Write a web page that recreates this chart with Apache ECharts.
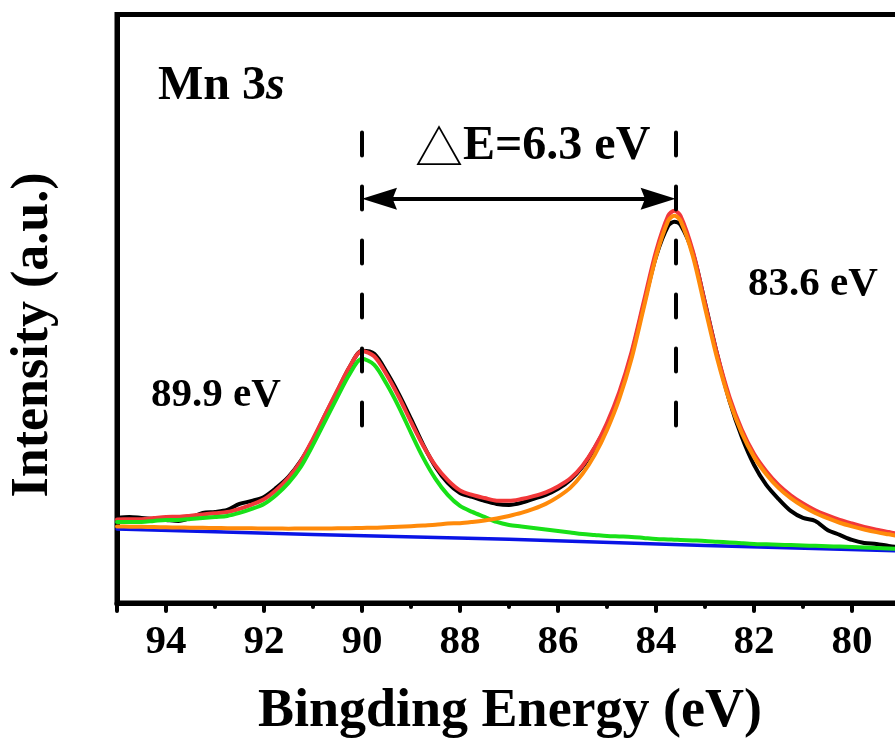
<!DOCTYPE html>
<html><head><meta charset="utf-8">
<script src="https://cdn.jsdelivr.net/npm/echarts@6/dist/echarts.min.js"></script>
<style>html,body{margin:0;padding:0;background:#fff}#c{width:895px;height:745px}</style>
</head><body><div id="c"></div>
<script>
// Binding energy grid (eV)
const energies = [95, 94.75, 94.5, 94.25, 94, 93.75, 93.5, 93.25, 93, 92.75, 92.5, 92.25, 92, 91.75, 91.5, 91.25, 91, 90.75, 90.5, 90.25, 90, 89.75, 89.5, 89.25, 89, 88.75, 88.5, 88.25, 88, 87.75, 87.5, 87.25, 87, 86.75, 86.5, 86.25, 86, 85.75, 85.5, 85.25, 85, 84.75, 84.5, 84.25, 84, 83.75, 83.625, 83.5, 83.25, 83, 82.75, 82.5, 82.25, 82, 81.75, 81.5, 81.25, 81, 80.75, 80.5, 80.25, 80, 79.75, 79.5, 79.25, 79, 78.75, 78.5, 78.25, 78];
// Measured spectrum (black)
const rawData = [83, 84, 83, 82, 81, 80, 83, 88, 89, 91, 97, 100, 104, 113, 124, 140, 161, 186, 210, 234, 250, 247, 229, 207, 182, 156, 134, 118, 108, 104, 100, 97, 96, 98, 102, 106, 112, 121, 134, 153, 176, 206, 246, 296, 344, 375, 379, 376, 348, 298, 246, 200, 164, 136, 116, 102, 90, 83, 80, 71, 66, 61, 58, 57, 55, 53.5, 53, 52, 51, 50];
// Fitted envelope (red)
const envelope = [81.5, 81.7, 81.8, 82.9, 84, 84.2, 85.3, 86.5, 87.7, 88.9, 92.1, 96.4, 101.6, 110.9, 123.2, 139.6, 162, 186.4, 210.8, 234.3, 249.9, 244.5, 226.3, 204.1, 179, 155.1, 135.2, 120.7, 110.5, 106, 102.9, 100.2, 100.1, 101.9, 104.8, 108.6, 114.5, 122.3, 135.2, 153.5, 177.9, 208.7, 248.6, 298.9, 349.2, 385.1, 390, 384.9, 349.8, 297.6, 246.2, 203.8, 171.3, 147, 129.6, 115.9, 105.6, 97.5, 90.7, 85.5, 81, 77.4, 74.1, 71.3, 68.9, 66.6, 64.9, 63.3, 61.8, 60.5];
// Component at 89.9 eV (green)
const peak899 = [79, 79, 79, 80, 81, 81, 82, 83, 84, 85, 88, 92, 97, 106, 118, 134, 156, 180, 204, 227, 242, 236, 217, 194, 168, 143, 122, 106, 95, 89, 84, 79, 76, 74.5, 73, 71.5, 70, 68.5, 67, 66, 65, 64.5, 64, 63, 62, 61.5, 61.2, 61, 60.5, 60, 59.2, 58.5, 57.7, 57, 56.6, 56.2, 55.9, 55.5, 55.1, 54.7, 54.4, 54, 53.5, 53, 52.5, 52, 51.6, 51.2, 50.8, 50.4];
// Component at 83.6 eV (orange)
const peak836 = [74.5, 74.3, 74.1, 73.9, 73.6, 73.5, 73.2, 73.1, 72.9, 72.8, 72.6, 72.6, 72.4, 72.4, 72.3, 72.4, 72.4, 72.5, 72.6, 72.7, 73, 73.2, 73.7, 74.1, 74.7, 75.5, 76.2, 77.4, 77.8, 79, 80.5, 82.5, 85, 88, 92, 97, 104, 113, 127, 146, 171, 202, 242, 293, 344, 380, 385, 380, 345, 293, 242, 200, 168, 144, 126.7, 113, 102.7, 94.6, 87.9, 82.7, 78.2, 74.6, 71.5, 68.8, 66.6, 64.4, 62.8, 61.2, 59.8, 58.5];
// Background (blue)
const bgEnergies = [95, 91, 87, 83, 79, 78];
const background = [72, 66.5, 61.8, 55.5, 50, 48.6];
// Peak positions marked by dashed lines (eV)
const peakMarks = [90.0, 83.6];
const xTickValues = [94, 92, 90, 88, 86, 84, 82, 80];

const pair = (xs, ys) => xs.map((x, i) => [x, ys[i]]);
const serif = '"Liberation Serif", "Times New Roman", serif';

const chart = echarts.init(document.getElementById('c'), null, {renderer: 'canvas'});
const lineSeries = (name, data, color, width, extra) => Object.assign({
  name, type: 'line', data, showSymbol: false, symbol: 'none', smooth: 0.3,
  lineStyle: {color, width, cap: 'round', join: 'round'}, animation: false, silent: true
}, extra || {});

chart.setOption({
  backgroundColor: '#fff',
  animation: false,
  grid: {left: 117, right: -55, top: 14.5, bottom: 142, show: true, borderColor: '#000', borderWidth: 5, outerBoundsMode: 'none', containLabel: false},
  xAxis: {
    type: 'value', inverse: true, min: 78, max: 95, interval: 2,
    axisLine: {show: true, onZero: false, lineStyle: {color: '#000', width: 5}},
    axisTick: {show: true, inside: false, length: 8, lineStyle: {color: '#000', width: 4, cap: 'round'}},
    minorTick: {show: true, splitNumber: 2, length: 4, lineStyle: {color: '#000', width: 4, cap: 'round'}},
    axisLabel: {color: '#000', fontFamily: serif, fontWeight: 'bold', fontSize: 41, margin: 19, showMaxLabel: false,
      formatter: v => xTickValues.indexOf(v) >= 0 ? String(v) : ''},
    splitLine: {show: false}
  },
  yAxis: {
    type: 'value', min: -2, max: 586,
    axisLine: {show: true, lineStyle: {color: '#000', width: 5}},
    axisTick: {show: false}, axisLabel: {show: false}, splitLine: {show: false}
  },
  series: [
    lineSeries('Raw', pair(energies, rawData), '#000000', 4, {
      markLine: {
        silent: true, animation: false, symbol: 'none',
        label: {show: false},
        lineStyle: {color: '#000', width: 4, type: [23, 31], cap: 'round'},
        data: peakMarks.map(e => [{coord: [e, 468]}, {coord: [e, 171]}])
      }
    }),
    lineSeries('Envelope', pair(energies, envelope), '#f2383a', 4, {
      markLine: {
        silent: true, animation: false,
        symbol: ['path://M10,0 L20,32 L10,28 L0,32 Z', 'path://M10,0 L20,32 L10,28 L0,32 Z'],
        symbolSize: [22, 35],
        label: {show: false},
        lineStyle: {color: '#000', width: 4, type: 'solid'},
        data: [[{coord: [peakMarks[0] - 0.357, 402]}, {coord: [peakMarks[1] + 0.357, 402]}]]
      }
    }),
    lineSeries('Background', pair(bgEnergies, background), '#0a14e6', 3.5, {smooth: false}),
    lineSeries('Peak 89.9', pair(energies, peak899), '#18e018', 4),
    lineSeries('Peak 83.6', pair(energies, peak836), '#ff8a0a', 4)
  ],
  graphic: [
    {type: 'text', x: 510, y: 712, silent: true,
      style: {text: 'Bingding Energy (eV)', align: 'center', verticalAlign: 'middle', fontFamily: serif, fontWeight: 'bold', fontSize: 54, fill: '#000'}},
    {type: 'text', x: 34, y: 335, rotation: Math.PI / 2, silent: true,
      style: {text: 'Intensity (a.u.)', align: 'center', verticalAlign: 'middle', fontFamily: serif, fontWeight: 'bold', fontSize: 52, fill: '#000'}},
    {type: 'text', x: 158, y: 87, silent: true,
      style: {text: '{b|Mn 3}{i|s}', align: 'left', verticalAlign: 'middle',
        rich: {b: {fontFamily: serif, fontWeight: 'bold', fontSize: 48, fill: '#000'},
               i: {fontFamily: serif, fontWeight: 'bold', fontStyle: 'italic', fontSize: 48, fill: '#000'}}}},
    {type: 'text', x: 415, y: 147, silent: true,
      style: {text: '{t|△}{b|E=6.3 eV}', align: 'left', verticalAlign: 'middle',
        rich: {t: {fontFamily: '"Noto Sans CJK SC"', fontWeight: 'normal', fontSize: 48, fill: '#000'},
               b: {fontFamily: serif, fontWeight: 'bold', fontSize: 48, fill: '#000'}}}},
    {type: 'text', x: 151, y: 395, silent: true,
      style: {text: '89.9 eV', align: 'left', verticalAlign: 'middle', fontFamily: serif, fontWeight: 'bold', fontSize: 41, fill: '#000'}},
    {type: 'text', x: 748, y: 284, silent: true,
      style: {text: '83.6 eV', align: 'left', verticalAlign: 'middle', fontFamily: serif, fontWeight: 'bold', fontSize: 41, fill: '#000'}}
  ]
});
</script></body></html>
